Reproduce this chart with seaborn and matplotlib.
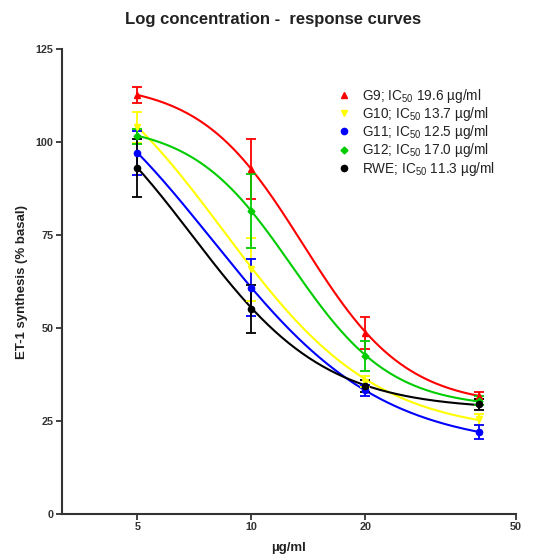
import numpy as np
import pandas as pd
import matplotlib
matplotlib.use("Agg")
import matplotlib.pyplot as plt
from matplotlib.lines import Line2D
import seaborn as sns

# Concentrations (µg/ml) and ET-1 synthesis (% basal), mean and SEM per extract
conc = [5, 10, 20, 40]
groups = ["G9", "G10", "G11", "G12", "RWE"]
ic50 = [19.6, 13.7, 12.5, 17.0, 11.3]
g9_mean = [112.6, 92.7, 48.7, 31.8]
g9_sem = [2.2, 8.0, 4.3, 1.0]
g10_mean = [104.0, 65.8, 35.5, 25.5]
g10_sem = [4.2, 8.5, 1.5, 1.5]
g11_mean = [97.1, 60.8, 33.2, 22.0]
g11_sem = [6.0, 7.7, 1.5, 1.8]
g12_mean = [101.5, 81.5, 42.5, 30.5]
g12_sem = [2.0, 10.0, 4.0, 1.2]
rwe_mean = [93.0, 55.1, 34.4, 29.5]
rwe_sem = [7.8, 6.5, 1.5, 1.5]

means = [g9_mean, g10_mean, g11_mean, g12_mean, rwe_mean]
sems = [g9_sem, g10_sem, g11_sem, g12_sem, rwe_sem]
colors = ["#ff0000", "#ffff00", "#0000ff", "#00cc00", "#000000"]
markers = ["^", "v", "o", "D", "o"]
msizes = [4.5, 4.5, 4.5, 3.5, 4.5]
labels = [f"{g}; IC$_{{50}}$ {v:.1f} µg/ml" for g, v in zip(groups, ic50)]


def fit_4pl(x, y, ic):
    """Least-squares 4-parameter logistic constrained to cross 50 % at the stated IC50."""
    x = np.asarray(x, float)
    y = np.asarray(y, float)
    top = np.arange(90, 170, 1.0)[:, None, None]
    bot = np.arange(0, 45, 0.5)[None, :, None]
    hill = np.arange(0.4, 5.0, 0.05)[None, None, :]
    ratio = (top - bot) / (50 - bot) - 1
    ratio = np.where(ratio > 0, ratio, np.nan)
    ec = ic / ratio ** (1 / hill)
    sse = 0
    for xi, yi in zip(x, y):
        pred = bot + (top - bot) / (1 + (xi / ec) ** hill)
        sse = sse + (pred - yi) ** 2
    sse = np.where(np.isfinite(sse), sse, np.inf)
    i, j, k = np.unravel_index(np.argmin(sse), sse.shape)
    t, b, h = top[i, 0, 0], bot[0, j, 0], hill[0, 0, k]
    e = ic / (((t - b) / (50 - b) - 1) ** (1 / h))
    return t, b, h, e


xs = np.logspace(np.log10(conc[0]), np.log10(conc[-1]), 200)
rows = []
for g, m, ic in zip(groups, means, ic50):
    t, b, h, e = fit_4pl(conc, m, ic)
    ys = b + (t - b) / (1 + (xs / e) ** h)
    rows.append(pd.DataFrame({"conc": xs, "resp": ys, "group": g}))
curves = pd.concat(rows, ignore_index=True)

sns.set_style("ticks")
plt.rcParams["font.family"] = ["Liberation Sans", "DejaVu Sans"]
plt.rcParams["mathtext.fontset"] = "custom"
plt.rcParams["mathtext.rm"] = "Liberation Sans"

fig = plt.figure(figsize=(5.35, 5.58), dpi=100)
ax = fig.add_axes([0.116, 0.079, 0.848, 0.833])

sns.lineplot(data=curves, x="conc", y="resp", hue="group", hue_order=groups,
             palette=colors, linewidth=1.5, legend=False, ax=ax, zorder=2)

for m, s, c, mk, ms in zip(means, sems, colors, markers, msizes):
    ax.errorbar(conc, m, yerr=s, fmt=mk, color=c, ms=ms, elinewidth=1.3,
                capsize=3.5, capthick=1.3, zorder=3)

ax.set_xscale("log")
ax.set_xlim(10 ** 0.5, 50)
ax.set_ylim(0, 125)
ax.set_xticks([5, 10, 20, 50])
ax.set_xticklabels(["5", "10", "20", "50"])
ax.xaxis.set_minor_locator(matplotlib.ticker.NullLocator())
ax.set_yticks([0, 25, 50, 75, 100, 125])

for side in ("top", "right"):
    ax.spines[side].set_visible(False)
for side in ("left", "bottom"):
    ax.spines[side].set_linewidth(1.5)
    ax.spines[side].set_color("#333333")
ax.tick_params(axis="both", length=4, width=1.3, color="#333333",
               labelsize=7.8, labelcolor="#333333", pad=2)
for lab in ax.get_xticklabels() + ax.get_yticklabels():
    lab.set_fontweight("bold")

ax.set_xlabel("µg/ml", fontsize=9.5, fontweight="bold", color="#222222", labelpad=7)
ax.set_ylabel("ET-1 synthesis (% basal)", fontsize=9.5, fontweight="bold",
              color="#222222", labelpad=6)
fig.suptitle("Log concentration -  response curves", x=0.51, y=0.978,
             fontsize=12, fontweight="bold", color="#222222")

handles = [Line2D([], [], linestyle="none", marker=mk, color=c, markersize=ms)
           for c, mk, ms in zip(colors, markers, msizes)]
leg = ax.legend(handles, labels, loc="upper left", bbox_to_anchor=(0.615, 0.862),
                bbox_transform=fig.transFigure, frameon=False, fontsize=9.8,
                handlelength=0.8, handletextpad=0.9, labelspacing=0.02,
                borderpad=0.2)
for t in leg.get_texts():
    t.set_color("#222222")

fig.savefig("out.png", dpi=100)
